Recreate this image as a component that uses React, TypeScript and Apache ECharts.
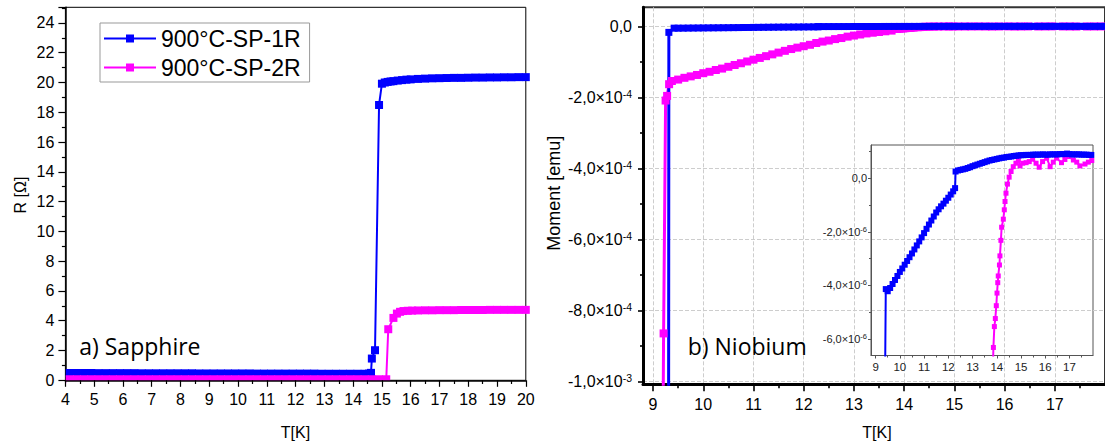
import { useEffect, useRef } from 'react';
import * as echarts from 'echarts';

const BLUE = '#0000ff';
const PINK = '#ff00ff';
const SANS = '"Liberation Sans", Arial, sans-serif';
const TITLE_FONT = '"Open Sans", sans-serif';

const seriesNames = ['900°C-SP-1R', '900°C-SP-2R'];
const panelTitles = ['a) Sapphire', 'b) Niobium'];
const axisNames = ['R [Ω]', 'Moment [emu]', 'T[K]'];

// ---- Panel a) Sapphire: resistance R [Ω] vs T [K]
const sapT1 = [4.15, 4.4, 4.65, 4.9, 5.15, 5.4, 5.65, 5.9, 6.15, 6.4, 6.65, 6.9, 7.15, 7.4, 7.65, 7.9, 8.15, 8.4, 8.65, 8.9, 9.15, 9.4, 9.65, 9.9, 10.15, 10.4, 10.65, 10.9, 11.15, 11.4, 11.65, 11.9, 12.15, 12.4, 12.65, 12.9, 13.15, 13.4, 13.65, 13.9, 14.15, 14.4,
  14.55, 14.62, 14.65, 14.76, 14.9, 15.0, 15.1, 15.2, 15.3, 15.4, 15.55, 15.7, 15.85,
  16.0, 16.25, 16.5, 16.75, 17.0, 17.25, 17.5, 17.75, 18.0, 18.25, 18.5, 18.75, 19.0, 19.25, 19.5, 19.75, 20.0];
const sapR1 = [0.49, 0.49, 0.49, 0.49, 0.48, 0.48, 0.48, 0.48, 0.48, 0.48, 0.47, 0.47, 0.47, 0.47, 0.47, 0.47, 0.47, 0.47, 0.46, 0.46, 0.46, 0.46, 0.46, 0.46, 0.46, 0.46, 0.45, 0.45, 0.45, 0.45, 0.45, 0.45, 0.45, 0.45, 0.45, 0.44, 0.44, 0.44, 0.44, 0.44, 0.44, 0.44,
  0.45, 0.5, 1.46, 2.02, 18.49, 19.92, 20.0, 20.04, 20.07, 20.09, 20.13, 20.16, 20.19,
  20.21, 20.24, 20.26, 20.28, 20.29, 20.3, 20.31, 20.31, 20.32, 20.33, 20.33, 20.34, 20.34, 20.35, 20.35, 20.36, 20.36];
const sapT2 = [4.15, 4.4, 4.65, 4.9, 5.15, 5.4, 5.65, 5.9, 6.15, 6.4, 6.65, 6.9, 7.15, 7.4, 7.65, 7.9, 8.15, 8.4, 8.65, 8.9, 9.15, 9.4, 9.65, 9.9, 10.15, 10.4, 10.65, 10.9, 11.15, 11.4, 11.65, 11.9, 12.15, 12.4, 12.65, 12.9, 13.15, 13.4, 13.65, 13.9, 14.15, 14.4, 14.65, 14.9, 15.15,
  15.22, 15.4, 15.52, 15.63, 15.75, 15.9, 16.05, 16.25, 16.5, 16.75, 17.0, 17.25, 17.5, 17.75, 18.0, 18.25, 18.5, 18.75, 19.0, 19.25, 19.5, 19.75, 20.0];
const sapR2 = [0.07, 0.07, 0.07, 0.07, 0.07, 0.07, 0.07, 0.07, 0.07, 0.07, 0.07, 0.07, 0.07, 0.07, 0.07, 0.07, 0.07, 0.07, 0.07, 0.07, 0.07, 0.07, 0.07, 0.07, 0.07, 0.07, 0.07, 0.07, 0.07, 0.07, 0.07, 0.07, 0.07, 0.07, 0.07, 0.07, 0.07, 0.07, 0.07, 0.07, 0.07, 0.07, 0.07, 0.07, 0.07,
  3.43, 4.19, 4.48, 4.6, 4.65, 4.67, 4.68, 4.69, 4.7, 4.7, 4.71, 4.71, 4.71, 4.72, 4.72, 4.72, 4.72, 4.73, 4.73, 4.73, 4.73, 4.73, 4.73];

// ---- Panel b) Niobium: moment (in units of 1e-6 emu) vs T [K], shared by main plot and inset
const nbT1 = [9.31, 9.315, 9.42,
  9.5, 9.6, 9.7, 9.8, 9.9, 10.0, 10.1, 10.2, 10.3, 10.4, 10.5, 10.6, 10.7, 10.8, 10.9, 11.0, 11.1, 11.2, 11.3, 11.4, 11.5, 11.6, 11.7, 11.8, 11.9, 12.0, 12.1, 12.2,
  12.28, 12.3,
  12.4, 12.5, 12.6, 12.7, 12.8, 12.9, 13.0, 13.1, 13.2, 13.3, 13.4, 13.5, 13.6, 13.7, 13.8, 13.9, 14.0, 14.1, 14.2, 14.3, 14.4, 14.5, 14.6, 14.7, 14.8, 14.9, 15.0, 15.1, 15.2, 15.3,
  15.4, 15.5, 15.6, 15.7, 15.8, 15.9, 16.0, 16.1, 16.2, 16.3, 16.4, 16.5, 16.6, 16.7, 16.8, 16.9, 17.0, 17.1, 17.2, 17.3, 17.4, 17.5, 17.6, 17.7, 17.8, 17.9, 18.0];
const nbM1 = [-1100, -16, -4.14,
  -4.22, -4.10, -3.95, -3.80, -3.65, -3.50, -3.37, -3.23, -3.09, -2.95, -2.81, -2.66, -2.51, -2.36, -2.21, -2.05, -1.89, -1.73, -1.58, -1.43, -1.28, -1.16, -1.05, -0.95, -0.84, -0.73, -0.61, -0.49,
  -0.37, 0.25,
  0.29, 0.31, 0.33, 0.35, 0.38, 0.41, 0.45, 0.48, 0.51, 0.54, 0.57, 0.60, 0.63, 0.66, 0.68, 0.70, 0.72, 0.74, 0.76, 0.77, 0.79, 0.80, 0.81, 0.83, 0.84, 0.85, 0.86, 0.86, 0.87, 0.87,
  0.87, 0.88, 0.88, 0.88, 0.88, 0.89, 0.88, 0.88, 0.89, 0.89, 0.89, 0.89, 0.90, 0.90, 0.90, 0.92, 0.90, 0.89, 0.89, 0.89, 0.89, 0.88, 0.88, 0.88, 0.87, 0.87, 0.87];
const nbT2 = [9.2, 9.21, 9.25, 9.28, 9.32, 9.375,
  9.5, 9.625, 9.75, 9.875, 10.0, 10.125, 10.25, 10.375, 10.5, 10.625, 10.75, 10.875, 11.0, 11.125, 11.25, 11.375, 11.5, 11.625, 11.75, 11.875, 12.0, 12.125, 12.25, 12.375, 12.5, 12.625, 12.75, 12.875, 13.0, 13.125, 13.25, 13.375, 13.5, 13.625, 13.75,
  13.86, 13.9, 13.94, 13.98, 14.01, 14.04, 14.06, 14.11, 14.13, 14.17, 14.2, 14.27, 14.31, 14.34, 14.38, 14.44, 14.51, 14.59, 14.68, 14.79,
  14.89, 14.96, 15.07, 15.21, 15.34, 15.48, 15.62, 15.75, 15.89, 16.06, 16.2, 16.33, 16.47, 16.67, 16.81, 16.95, 17.16, 17.3, 17.43, 17.64, 17.78, 17.92];
const nbM2 = [-1100, -864, -208, -195, -162, -153,
  -149, -144, -140, -136, -131, -127, -122, -118, -113, -108, -103, -98, -93, -88, -83, -78, -73, -68, -63, -59, -55, -51, -46, -42, -39, -35, -32, -28, -25, -22, -19, -17, -15, -13, -11,
  -6.32, -5.54, -5.24, -4.76, -4.29, -3.9, -3.65, -3.24, -2.9, -2.32, -1.83, -1.53, -1.18, -0.87, -0.56, -0.22, 0.04, 0.25, 0.43, 0.56,
  0.68, 0.46, 0.56, 0.58, 0.62, 0.71, 0.56, 0.41, 0.62, 0.75, 0.43, 0.6, 0.75, 0.58, 0.7, 0.81, 0.68, 0.6, 0.46, 0.53, 0.6, 0.66];

// ---- tick values
const nbTempTicks = [9, 10, 11, 12, 13, 14, 15, 16, 17];
const nbMomentTicks = [-1e-3, -8e-4, -6e-4, -4e-4, -2e-4, 0];
const insetMomentTicks = [-6e-6, -4e-6, -2e-6, 0];

const pairs = (xs: number[], ys: number[], scale = 1) => xs.map((x, i) => [x, ys[i] * scale]);

function sciLabel(v: number): string {
  if (Math.abs(v) < 1e-15) return '{m|0,0}';
  const e = Math.floor(Math.log10(Math.abs(v)) + 1e-9);
  const m = Math.round((v / Math.pow(10, e)) * 10) / 10;
  return `{m|${m.toFixed(1).replace('.', ',')}×10}{s|${e}}`;
}

const tickStyle = (w: number) => ({ color: '#000', width: w });
const gridLine = { show: true, lineStyle: { color: '#cdcdcd', width: 1, type: 'dashed' } };

export default function App() {
  const ref = useRef<HTMLDivElement>(null);
  useEffect(() => {
    if (!ref.current) return;
    const chart = echarts.init(ref.current, undefined, { renderer: 'svg' });
    const labelBase = { fontFamily: SANS, color: '#000' };
    const option: any = {
      animation: false,
      grid: [
        { left: 65.4, top: 7.3, width: 460.4, height: 373, show: true, borderColor: '#000', borderWidth: 1, backgroundColor: 'transparent' },
        { left: 643, top: 7.3, width: 468, height: 377, show: true, borderColor: '#333', borderWidth: 2, backgroundColor: 'transparent' },
        { left: 871, top: 145, width: 222, height: 210.5, show: true, borderColor: '#555', borderWidth: 1, backgroundColor: 'transparent' },
      ],
      legend: {
        data: seriesNames,
        orient: 'vertical',
        left: 100,
        top: 23,
        padding: [4, 9, 3, 3],
        itemGap: 6,
        itemWidth: 52,
        itemHeight: 10,
        borderColor: '#999',
        borderWidth: 1,
        backgroundColor: '#fff',
        selectedMode: false,
        textStyle: { fontSize: 23, fontFamily: SANS, color: '#000' },
      },
      xAxis: [
        {
          gridIndex: 0, type: 'value', min: 4, max: 20, interval: 1, z: 10,
          axisLine: { onZero: false, lineStyle: { color: '#000', width: 1.5 } },
          axisTick: { length: 6.5, lineStyle: tickStyle(1.2) },
          minorTick: { show: true, splitNumber: 2, length: 3.7, lineStyle: tickStyle(1.2) },
          axisLabel: { margin: 11, fontSize: 16, ...labelBase },
          splitLine: { show: false },
        },
        {
          gridIndex: 1, type: 'value', min: 8.8, max: 18, minInterval: 1, maxInterval: 1,
          axisLine: { onZero: false, lineStyle: { color: '#000', width: 3 } },
          axisTick: { length: 7, lineStyle: tickStyle(1.6), customValues: nbTempTicks },
          minorTick: { show: true, splitNumber: 2, length: 4, lineStyle: tickStyle(1.6) },
          axisLabel: { margin: 12, fontSize: 16, ...labelBase, customValues: nbTempTicks },
          splitLine: gridLine,
        },
        {
          gridIndex: 2, type: 'value', min: 8.81, max: 17.97, minInterval: 1, maxInterval: 1,
          axisLine: { onZero: false, lineStyle: { color: '#555', width: 1 } },
          axisTick: { length: 3, lineStyle: { color: '#555', width: 1 }, customValues: nbTempTicks },
          minorTick: { show: true, splitNumber: 2, length: 2, lineStyle: { color: '#555', width: 1 } },
          axisLabel: { margin: 5, fontSize: 11.5, ...labelBase, color: '#222', customValues: nbTempTicks },
          splitLine: { show: false },
        },
      ],
      yAxis: [
        {
          gridIndex: 0, type: 'value', min: 0, max: 25.05, interval: 2,
          axisLine: { onZero: false, lineStyle: { color: '#000', width: 1.5 } },
          axisTick: { length: 7, lineStyle: tickStyle(1.2) },
          minorTick: { show: true, splitNumber: 2, length: 3.5, lineStyle: tickStyle(1.2) },
          axisLabel: { margin: 11, fontSize: 16, ...labelBase, showMaxLabel: false },
          splitLine: { show: false },
        },
        {
          gridIndex: 1, type: 'value', min: -1.0073e-3, max: 5.46e-5, minInterval: 2e-4, maxInterval: 2e-4,
          axisLine: { onZero: false, lineStyle: { color: '#000', width: 3 } },
          axisTick: { length: 5, lineStyle: tickStyle(1.6), customValues: nbMomentTicks },
          minorTick: { show: true, splitNumber: 2, length: 3, lineStyle: tickStyle(1.6) },
          axisLabel: {
            margin: 11, customValues: nbMomentTicks, formatter: (v: number) => sciLabel(v),
            rich: {
              m: { fontSize: 16, fontFamily: SANS, color: '#000', lineHeight: 18 },
              s: { fontSize: 10.5, fontFamily: SANS, color: '#000', lineHeight: 11, verticalAlign: 'top' },
            },
          },
          splitLine: gridLine,
        },
        {
          gridIndex: 2, type: 'value', min: -6.62e-6, max: 1.24e-6, minInterval: 2e-6, maxInterval: 2e-6,
          axisLine: { onZero: false, lineStyle: { color: '#555', width: 1 } },
          axisTick: { length: 3, lineStyle: { color: '#555', width: 1 }, customValues: insetMomentTicks },
          minorTick: { show: true, splitNumber: 2, length: 2, lineStyle: { color: '#555', width: 1 } },
          axisLabel: {
            margin: 4, customValues: insetMomentTicks, formatter: (v: number) => sciLabel(v),
            rich: {
              m: { fontSize: 11, fontFamily: SANS, color: '#222', lineHeight: 13 },
              s: { fontSize: 7.5, fontFamily: SANS, color: '#222', lineHeight: 8, verticalAlign: 'top' },
            },
          },
          splitLine: { show: false },
        },
      ],
      series: [
        {
          name: seriesNames[0], type: 'line', xAxisIndex: 0, yAxisIndex: 0,
          data: pairs(sapT1, sapR1), symbol: 'rect', symbolSize: 8, showAllSymbol: true,
          lineStyle: { color: BLUE, width: 2 }, itemStyle: { color: BLUE }, silent: true,
        },
        {
          name: seriesNames[1], type: 'line', xAxisIndex: 0, yAxisIndex: 0,
          data: pairs(sapT2, sapR2), symbol: 'rect', symbolSize: 8, showAllSymbol: true,
          lineStyle: { color: PINK, width: 2 }, itemStyle: { color: PINK }, silent: true,
        },
        {
          name: 'Nb-2R', type: 'line', xAxisIndex: 1, yAxisIndex: 1,
          data: pairs(nbT2, nbM2, 1e-6), symbol: 'rect', symbolSize: 8, showAllSymbol: true,
          lineStyle: { color: PINK, width: 3 }, itemStyle: { color: PINK }, silent: true,
        },
        {
          name: 'Nb-1R', type: 'line', xAxisIndex: 1, yAxisIndex: 1,
          data: pairs(nbT1, nbM1, 1e-6), symbol: 'rect', symbolSize: 7, showAllSymbol: true,
          lineStyle: { color: BLUE, width: 3 }, itemStyle: { color: BLUE }, silent: true,
        },
        {
          name: 'Nb-2R inset', type: 'line', xAxisIndex: 2, yAxisIndex: 2,
          data: pairs(nbT2, nbM2, 1e-6), symbol: 'rect', symbolSize: 5, showAllSymbol: true,
          lineStyle: { color: PINK, width: 2 }, itemStyle: { color: PINK }, silent: true,
        },
        {
          name: 'Nb-1R inset', type: 'line', xAxisIndex: 2, yAxisIndex: 2,
          data: pairs(nbT1, nbM1, 1e-6), symbol: 'rect', symbolSize: 6, showAllSymbol: true,
          lineStyle: { color: BLUE, width: 2 }, itemStyle: { color: BLUE }, silent: true,
        },
      ],
      graphic: [
        { type: 'rect', z: 5, silent: true, shape: { x: 66.3, y: 381, width: 461, height: 9 }, style: { fill: '#fff' } },
        {
          type: 'text', x: 79.2, y: 346, z: 20,
          style: { text: panelTitles[0], font: `23px ${TITLE_FONT}`, fill: '#000', align: 'left', verticalAlign: 'middle', textAlign: 'left', textVerticalAlign: 'middle' },
        },
        {
          type: 'text', x: 687.7, y: 346, z: 20,
          style: { text: panelTitles[1], font: `23px ${TITLE_FONT}`, fill: '#000', align: 'left', verticalAlign: 'middle', textAlign: 'left', textVerticalAlign: 'middle' },
        },
        {
          type: 'text', x: 20.7, y: 195, rotation: Math.PI / 2, z: 20,
          style: { text: axisNames[0], font: `16px ${SANS}`, fill: '#000', align: 'center', verticalAlign: 'middle', textAlign: 'center', textVerticalAlign: 'middle' },
        },
        {
          type: 'text', x: 554.4, y: 193.3, rotation: Math.PI / 2, z: 20,
          style: { text: axisNames[1], font: `18px ${SANS}`, fill: '#000', align: 'center', verticalAlign: 'middle', textAlign: 'center', textVerticalAlign: 'middle' },
        },
        {
          type: 'text', x: 295.5, y: 432, z: 20,
          style: { text: axisNames[2], font: `16px ${SANS}`, fill: '#000', align: 'center', verticalAlign: 'middle', textAlign: 'center', textVerticalAlign: 'middle' },
        },
        {
          type: 'text', x: 877, y: 432, z: 20,
          style: { text: axisNames[2], font: `16px ${SANS}`, fill: '#000', align: 'center', verticalAlign: 'middle', textAlign: 'center', textVerticalAlign: 'middle' },
        },
      ],
    };
    chart.setOption(option);
    return () => chart.dispose();
  }, []);
  return (
    <div
      ref={ref}
      style={{ position: 'absolute', left: 0, top: 0, width: 1105, height: 446, background: '#fff' }}
    />
  );
}
